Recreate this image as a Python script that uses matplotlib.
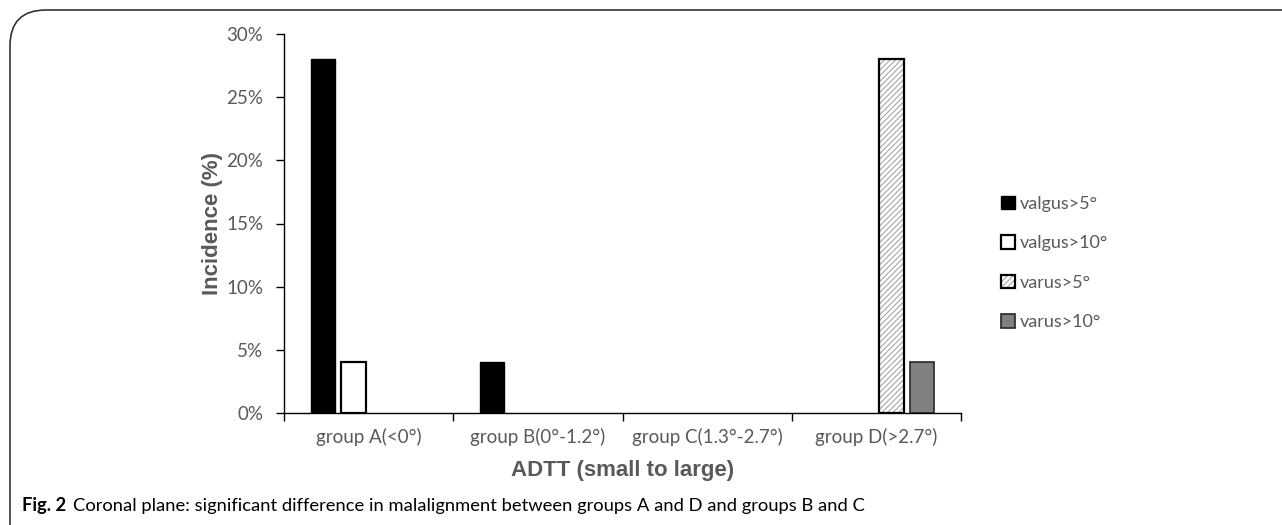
import matplotlib
matplotlib.use("Agg")
import matplotlib.pyplot as plt
from matplotlib.patches import FancyBboxPatch, Patch
from matplotlib.legend_handler import HandlerTuple
import numpy as np

groups = ["group A(<0°)", "group B(0°-1.2°)", "group C(1.3°-2.7°)", "group D(>2.7°)"]
series = ["valgus>5°", "valgus>10°", "varus>5°", "varus>10°"]
valgus5 = [28, 4, 0, 0]
valgus10 = [4, 0, 0, 0]
varus5 = [0, 0, 0, 28]
varus10 = [0, 0, 0, 4]
yticks = [0, 5, 10, 15, 20, 25, 30]

txt = "#595959"
plt.rcParams["hatch.linewidth"] = 0.8
fig = plt.figure(figsize=(12.82, 5.25), dpi=100)

# rounded frame around figure panel
frame = FancyBboxPatch((10 / 1282, -0.2), 1.2, 1 - 10 / 525 + 0.2,
                       boxstyle="round,pad=0,rounding_size=0.028",
                       transform=fig.transFigure, fc="none", ec="#333333",
                       lw=1.2, mutation_aspect=1282 / 525)
fig.patches.append(frame)

ax = fig.add_axes([284 / 1282, 1 - 413 / 525, 677 / 1282, 379 / 525])


def lw_of(vals, lw):
    # Excel draws nothing for empty bars
    return [lw if v > 0 else 0 for v in vals]


x = np.arange(len(groups))
step = 0.18
w = 0.145
ax.bar(x - 1.5 * step, valgus5, w, color="black", edgecolor="black",
       lw=lw_of(valgus5, 1))
ax.bar(x - 0.5 * step, valgus10, w, color="white", edgecolor="black",
       lw=lw_of(valgus10, 1.6))
ax.bar(x + 0.5 * step, varus5, w, color="white", edgecolor="#a6a6a6",
       hatch="//////", lw=0)
ax.bar(x + 0.5 * step, varus5, w, color="none", edgecolor="black",
       lw=lw_of(varus5, 1.6))
ax.bar(x + 1.5 * step, varus10, w, color="#808080", edgecolor="#262626",
       lw=lw_of(varus10, 1.2))

ax.set_xlim(-0.5, 3.5)
ax.set_ylim(0, 30)
ax.set_yticks(yticks)
ax.set_yticklabels([f"{v}%" for v in yticks], fontsize=13.5, color=txt,
                   family="Lato")
ax.set_xticks(x)
ax.set_xticklabels(groups, fontsize=13.5, color=txt, family="Lato")
ax.set_xticks(np.arange(-0.5, 4, 1), minor=True)
ax.tick_params(axis="x", which="major", length=0, pad=11)
ax.tick_params(axis="x", which="minor", length=6, width=1)
ax.tick_params(axis="y", length=6, width=1, pad=9)
for s in ["top", "right"]:
    ax.spines[s].set_visible(False)
for s in ["left", "bottom"]:
    ax.spines[s].set_linewidth(1)

ax.set_ylabel("Incidence (%)", fontsize=16, fontweight="bold", color=txt,
              family="Liberation Sans", labelpad=2)
ax.set_xlabel("ADTT (small to large)", fontsize=16, fontweight="bold",
              color=txt, family="Liberation Sans", labelpad=10)

h1 = Patch(fc="black", ec="black")
h2 = Patch(fc="white", ec="black", lw=1.6)
h3a = Patch(fc="white", ec="#a6a6a6", hatch="//////", lw=0)
h3b = Patch(fc="none", ec="black", lw=1.6)
h4 = Patch(fc="#808080", ec="#262626", lw=1.2)
leg = fig.legend([h1, h2, (h3a, h3b), h4], series,
                 handler_map={tuple: HandlerTuple(ndivide=1, pad=0)},
                 loc="center left", bbox_to_anchor=(985 / 1282, 1 - 263 / 525),
                 frameon=False, handlelength=0.75, handleheight=0.75,
                 handletextpad=0.3, labelspacing=1.3,
                 prop={"family": "Lato", "size": 13})
for t in leg.get_texts():
    t.set_color(txt)

cap_font = ["Lato", "DejaVu Sans"]
t1 = fig.text(22 / 1282, 1 - 506 / 525, "Fig. 2", fontsize=13.2,
              fontweight="bold", family=cap_font, va="center")
fig.canvas.draw()
bb = t1.get_window_extent()
fig.text((bb.x1 + 7) / 1282, 1 - 506 / 525,
         "Coronal plane: significant difference in malalignment between groups A and D and groups B and C",
         fontsize=13.2, family=cap_font, va="center")

fig.savefig("out.png", dpi=100)
